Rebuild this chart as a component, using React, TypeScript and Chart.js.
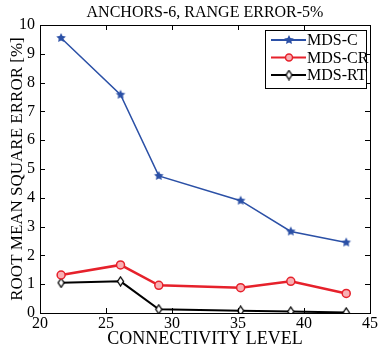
import React, { useEffect, useRef } from "react";
import { Chart, registerables } from "chart.js";

Chart.register(...registerables);

const connectivity = [21.6, 26.1, 29.0, 35.2, 39.0, 43.2];
const mdsC = [9.55, 7.58, 4.76, 3.9, 2.83, 2.45];
const mdsCR = [1.32, 1.67, 0.96, 0.88, 1.1, 0.68];
const mdsRT = [1.05, 1.1, 0.13, 0.08, 0.05, 0.02];
const seriesNames = ["MDS-C", "MDS-CR", "MDS-RT"];
const titleText = "ANCHORS-6, RANGE ERROR-5%";
const xTitle = "CONNECTIVITY LEVEL";
const yTitle = "ROOT MEAN SQUARE ERROR [%]";

const FONT = "'Liberation Serif', 'Times New Roman', serif";
const BLUE = "#2b50a6";
const RED = "#e6212b";
const BLACK = "#000000";

function makeStar(color: string, r: number) {
  const c = document.createElement("canvas");
  const s = Math.ceil(r * 2 + 2);
  c.width = s;
  c.height = s;
  const ctx = c.getContext("2d")!;
  ctx.fillStyle = color;
  ctx.beginPath();
  for (let i = 0; i < 10; i++) {
    const rad = i % 2 === 0 ? r : r * 0.5;
    const a = -Math.PI / 2 + (i * Math.PI) / 5;
    const x = s / 2 + rad * Math.cos(a);
    const y = s / 2 + rad * Math.sin(a);
    if (i === 0) ctx.moveTo(x, y);
    else ctx.lineTo(x, y);
  }
  ctx.closePath();
  ctx.fill();
  return c;
}

function makeDiamond(color: string) {
  const c = document.createElement("canvas");
  c.width = 9;
  c.height = 11;
  const ctx = c.getContext("2d")!;
  ctx.strokeStyle = color;
  ctx.lineWidth = 1.3;
  ctx.fillStyle = "#fff";
  ctx.beginPath();
  ctx.moveTo(4.5, 1);
  ctx.lineTo(7.5, 5.5);
  ctx.lineTo(4.5, 10);
  ctx.lineTo(1.5, 5.5);
  ctx.closePath();
  ctx.fill();
  ctx.stroke();
  return c;
}

export default function App() {
  const ref = useRef<HTMLCanvasElement>(null);
  useEffect(() => {
    document.body.style.margin = "0";
    const star = makeStar(BLUE, 5);
    const diamond = makeDiamond(BLACK);
    const colors = [BLUE, RED, BLACK];

    const framePlugin = {
      id: "frame",
      afterDatasetsDraw(chart: any) {
        const { ctx, chartArea: a, scales } = chart;
        ctx.save();
        // title centered over plot area
        ctx.fillStyle = "#000";
        ctx.font = `16px ${FONT}`;
        ctx.textAlign = "center";
        ctx.textBaseline = "middle";
        ctx.fillText(titleText, (a.left + a.right) / 2, 13);
        ctx.textAlign = "left";

        ctx.strokeStyle = "#000";
        ctx.lineWidth = 1;
        ctx.strokeRect(a.left + 0.5, a.top + 0.5, a.right - a.left, a.bottom - a.top);
        const tl = 5;
        ctx.beginPath();
        scales.x.ticks.forEach((t: any) => {
          const x = Math.round(scales.x.getPixelForValue(t.value)) + 0.5;
          ctx.moveTo(x, a.bottom);
          ctx.lineTo(x, a.bottom - tl);
          ctx.moveTo(x, a.top);
          ctx.lineTo(x, a.top + tl);
        });
        scales.y.ticks.forEach((t: any) => {
          const y = Math.round(scales.y.getPixelForValue(t.value)) + 0.5;
          ctx.moveTo(a.left, y);
          ctx.lineTo(a.left + tl, y);
          ctx.moveTo(a.right, y);
          ctx.lineTo(a.right - tl, y);
        });
        ctx.stroke();

        // legend box
        const bx = 265, by = 30, bw = 101, bh = 58;
        ctx.fillStyle = "#fff";
        ctx.fillRect(bx, by, bw, bh);
        ctx.strokeStyle = "#000";
        ctx.lineWidth = 1;
        ctx.strokeRect(bx + 0.5, by + 0.5, bw, bh);
        ctx.font = `16px ${FONT}`;
        ctx.textBaseline = "middle";
        const rows = [40, 57.5, 75];
        seriesNames.forEach((n, i) => {
          const y = rows[i];
          ctx.strokeStyle = colors[i];
          ctx.lineWidth = 2;
          ctx.beginPath();
          ctx.moveTo(271, y);
          ctx.lineTo(306, y);
          ctx.stroke();
          if (i === 0) ctx.drawImage(star, 289 - star.width / 2, y - star.height / 2);
          else if (i === 1) {
            ctx.beginPath();
            ctx.fillStyle = "#f8b0b4";
            ctx.strokeStyle = RED;
            ctx.lineWidth = 1.5;
            ctx.arc(289, y, 3.5, 0, Math.PI * 2);
            ctx.fill();
            ctx.stroke();
          } else ctx.drawImage(diamond, 289 - diamond.width / 2, y - diamond.height / 2);
          ctx.fillStyle = "#000";
          ctx.fillText(n, 307, y + 1);
        });
        ctx.restore();
      },
    };

    const mk = (vals: number[]) => connectivity.map((x, i) => ({ x, y: vals[i] }));
    const chart = new Chart(ref.current!, {
      type: "line",
      data: {
        datasets: [
          {
            label: seriesNames[0],
            data: mk(mdsC),
            borderColor: BLUE,
            backgroundColor: BLUE,
            borderWidth: 1.5,
            pointStyle: star as any,
            pointRadius: 5,
          },
          {
            label: seriesNames[1],
            data: mk(mdsCR),
            borderColor: RED,
            backgroundColor: "#f8b0b4",
            borderWidth: 2.5,
            pointStyle: "circle",
            pointRadius: 4,
            pointBorderWidth: 1.5,
          },
          {
            label: seriesNames[2],
            data: mk(mdsRT),
            borderColor: BLACK,
            backgroundColor: "#fff",
            borderWidth: 2,
            pointStyle: diamond as any,
            pointRadius: 5,
          },
        ],
      },
      plugins: [framePlugin],
      options: {
        animation: false,
        responsive: false,
        layout: { padding: { left: 0, right: 10, top: 25, bottom: 0 } },
        plugins: {
          legend: { display: false },
          tooltip: { enabled: false },
          title: { display: false },
        },
        scales: {
          x: {
            type: "linear",
            min: 20,
            max: 45,
            ticks: {
              stepSize: 5,
              color: "#000",
              font: { family: FONT, size: 16 },
              padding: 1,
              maxRotation: 0,
            },
            grid: { display: false, drawTicks: false },
            border: { display: false },
            title: {
              display: true,
              text: xTitle,
              color: "#000",
              font: { family: FONT, size: 18 },
              padding: { top: 0, bottom: 0 },
            },
            afterFit(s: any) {
              s.height = 37;
            },
          },
          y: {
            min: 0,
            max: 10,
            ticks: {
              stepSize: 1,
              color: "#000",
              font: { family: FONT, size: 16 },
              padding: 5,
            },
            grid: { display: false, drawTicks: false },
            border: { display: false },
            title: {
              display: true,
              text: yTitle,
              color: "#000",
              font: { family: FONT, size: 17 },
              padding: { top: 7, bottom: 0 },
            },
            afterFit(s: any) {
              s.width = 40;
            },
          },
        },
      },
    });
    return () => chart.destroy();
  }, []);
  return (
    <div style={{ position: "absolute", left: 0, top: 0, width: 380, height: 350, background: "#fff" }}>
      <canvas ref={ref} width={380} height={350} />
    </div>
  );
}
